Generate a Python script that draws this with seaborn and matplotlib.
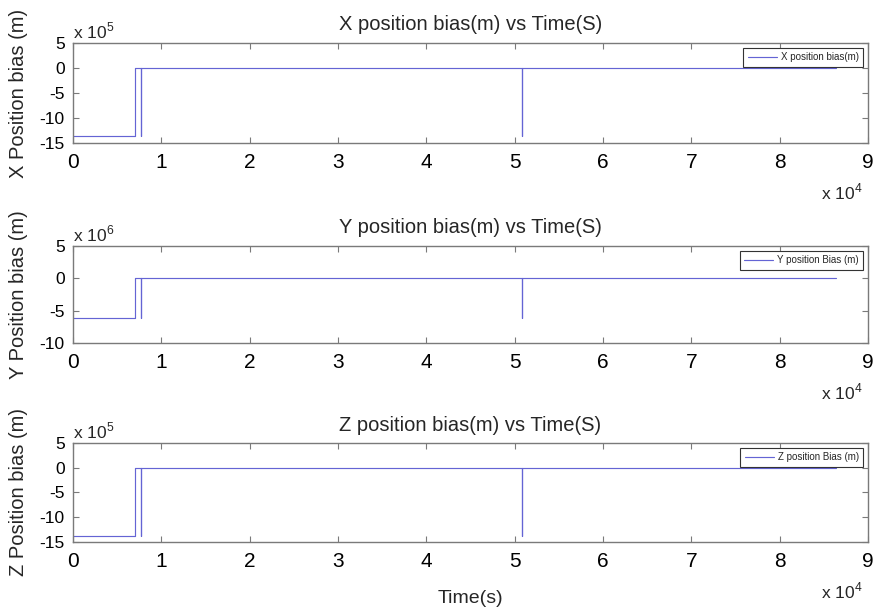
import matplotlib
matplotlib.use("Agg")
import matplotlib.pyplot as plt
from matplotlib.ticker import FixedLocator, FuncFormatter
import pandas as pd
import seaborn as sns

# Time axis (seconds) and the position-bias step traces (metres)
time_s = [0, 7050, 7050, 7700, 7700, 7700, 50800, 50800, 50800, 86400]
x_bias = [-1.36e6, -1.36e6, 0, 0, -1.36e6, 0, 0, -1.36e6, 0, 0]
y_bias = [-6.2e6, -6.2e6, 0, 0, -6.2e6, 0, 0, -6.2e6, 0, 0]
z_bias = [-1.37e6, -1.37e6, 0, 0, -1.37e6, 0, 0, -1.37e6, 0, 0]

x_tick_labels = [0, 1, 2, 3, 4, 5, 6, 7, 8, 9]          # x 10^4 s
x_exp = 4

titles = ["X position bias(m) vs Time(S)",
          "Y position bias(m) vs Time(S)",
          "Z position bias(m) vs Time(S)"]
y_labels = ["X Position bias (m)", "Y Position bias (m)", "Z Position bias (m)"]
legend_labels = ["X position bias(m)", "Y position Bias (m)", "Z position Bias (m)"]
y_tick_sets = [[-15, -10, -5, 0, 5], [-10, -5, 0, 5], [-15, -10, -5, 0, 5]]
y_exps = [5, 6, 5]
series = [x_bias, y_bias, z_bias]

sns.set_style("ticks")
plt.rcParams["font.family"] = ["Liberation Sans", "DejaVu Sans"]
plt.rcParams["mathtext.fontset"] = "custom"
plt.rcParams["mathtext.rm"] = "Liberation Sans"

line_color = "#6464d4"
spine_color = "#7a7a7a"

fig = plt.figure(figsize=(8.77, 6.14), dpi=100)
positions = [
    [0.0832, 0.7671, 0.9065, 0.1629],
    [0.0832, 0.4414, 0.9065, 0.1580],
    [0.0832, 0.1173, 0.9065, 0.1612],
]

for i in range(3):
    ax = fig.add_axes(positions[i])
    df = pd.DataFrame({"t": time_s, "bias": series[i]})
    sns.lineplot(data=df, x="t", y="bias", sort=False, estimator=None,
                 ax=ax, color=line_color, lw=0.85, label=legend_labels[i])

    yscale = 10.0 ** y_exps[i]
    yt = y_tick_sets[i]
    ax.set_xlim(0, x_tick_labels[-1] * 10 ** x_exp)
    ax.set_ylim(yt[0] * yscale, yt[-1] * yscale)
    ax.xaxis.set_major_locator(FixedLocator([v * 10 ** x_exp for v in x_tick_labels]))
    ax.yaxis.set_major_locator(FixedLocator([v * yscale for v in yt]))
    ax.xaxis.set_major_formatter(FuncFormatter(lambda v, p: f"{v / 10 ** x_exp:.0f}"))
    ax.yaxis.set_major_formatter(FuncFormatter(lambda v, p, s=yscale: f"{v / s:.0f}"))

    ax.tick_params(axis="both", direction="in", top=True, right=True,
                   length=4, width=0.8, color=spine_color, labelcolor="black")
    ax.tick_params(axis="x", labelsize=15, pad=7)
    ax.tick_params(axis="y", labelsize=12.5, pad=6)
    for sp in ax.spines.values():
        sp.set_color(spine_color)
        sp.set_linewidth(1.0)

    ax.set_title(titles[i], fontsize=14.5, pad=9)
    ax.set_ylabel(y_labels[i], fontsize=14.5, labelpad=8)
    ax.set_xlabel("")

    ax.text(0.0, 1.02, f"x 10$^{{{y_exps[i]}}}$", transform=ax.transAxes,
            ha="left", va="bottom", fontsize=12.5)
    ax.annotate(f"x 10$^{{{x_exp}}}$", xy=(1.0, 0.0), xycoords="axes fraction",
                xytext=(-4, -28), textcoords="offset points",
                ha="right", va="top", fontsize=12.5)

    leg = ax.legend(loc="upper right", fontsize=7, handlelength=3.0,
                    borderaxespad=0.5, fancybox=False, framealpha=1,
                    borderpad=0.45, handletextpad=0.4)
    leg.get_frame().set_edgecolor("#333333")
    leg.get_frame().set_linewidth(0.8)

    if i == 2:
        ax.set_xlabel("Time(s)", fontsize=14, labelpad=14)

fig.savefig("out.png", dpi=100)
